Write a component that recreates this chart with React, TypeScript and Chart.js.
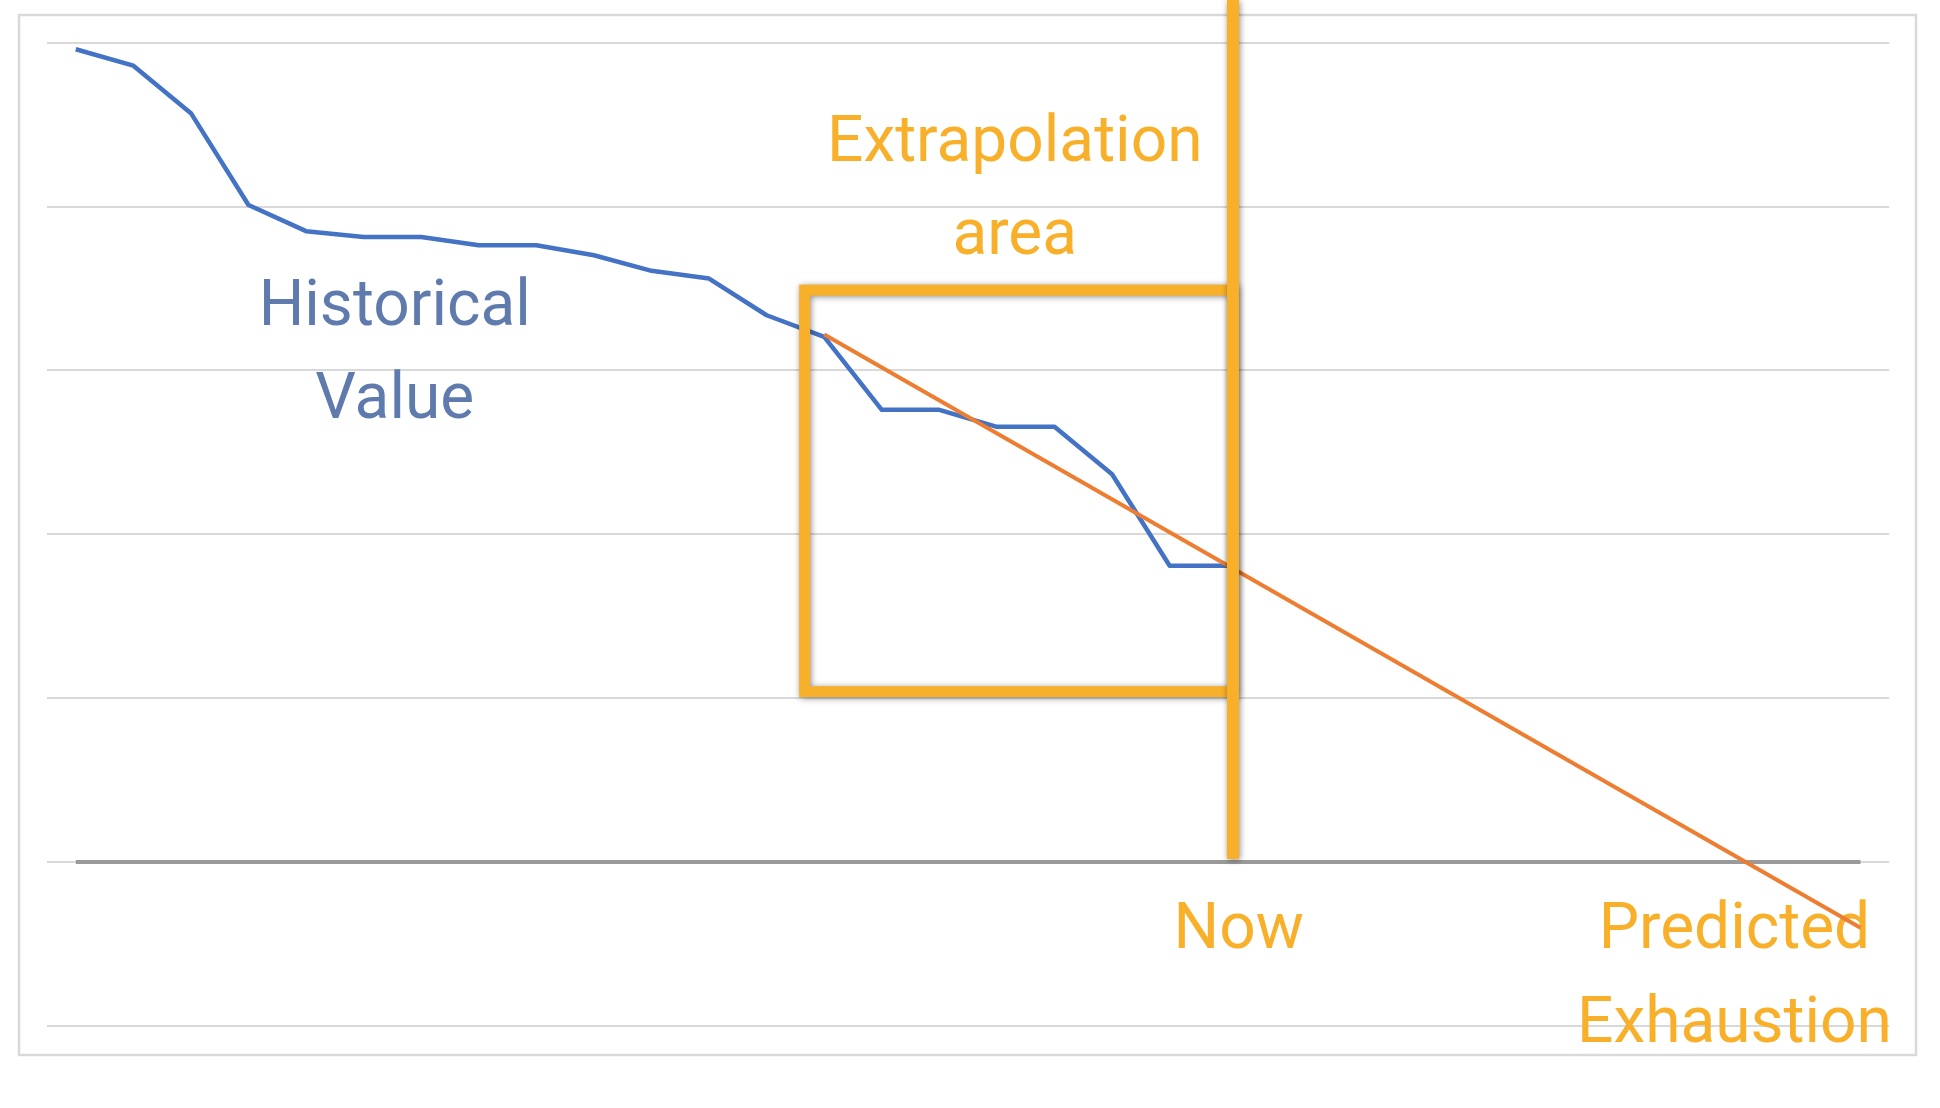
import React, { useEffect, useRef } from "react";
import { Chart, registerables } from "chart.js";

Chart.register(...registerables);

// ---- data ----
const CATEGORIES: string[] = [
  "1", "2", "3", "4", "5", "6", "7", "8", "9", "10", "11", "12", "13", "14", "15", "16",
  "17", "18", "19", "20", "21", "22", "23", "24", "25", "26", "27", "28", "29", "30", "31", "32",
];

const HISTORICAL: (number | null)[] = [
  4.96, 4.86, 4.57, 4.01, 3.85, 3.815, 3.815, 3.764, 3.764, 3.703, 3.608, 3.561, 3.337, 3.205,
  2.76, 2.76, 2.656, 2.656, 2.367, 1.808, 1.808,
  null, null, null, null, null, null, null, null, null, null, null,
];

// trend line: start and end values, drawn straight across the gap
const TREND: (number | null)[] = [
  null, null, null, null, null, null, null, null, null, null, null, null, null, 3.22,
  null, null, null, null, null, null, null, null, null, null, null, null, null, null, null, null, null,
  -0.4,
];

const ZERO_LINE: number[] = [
  0, 0, 0, 0, 0, 0, 0, 0, 0, 0, 0, 0, 0, 0, 0, 0,
  0, 0, 0, 0, 0, 0, 0, 0, 0, 0, 0, 0, 0, 0, 0, 0,
];

const Y_MIN = -1;
const Y_MAX = 5;
const Y_STEP = 1;

// annotations in data units (category index, value)
const NOW_INDEX = 20.1;
const BOX_LEFT_INDEX = 12.66;
const BOX_TOP_VALUE = 3.49;
const BOX_BOTTOM_VALUE = 1.04;

const BLUE_TEXT = ["Historical", "Value"];
const ORANGE_TEXT_1 = ["Extrapolation", "area"];
const ORANGE_TEXT_2 = ["Now"];
const ORANGE_TEXT_3 = ["Predicted", "Exhaustion"];

const LABELS = [
  { lines: BLUE_TEXT, index: 5.54, values: [3.276, 2.707], color: "#5F7BAE" },
  { lines: ORANGE_TEXT_1, index: 16.31, values: [4.279, 3.712], color: "#F8AF2A" },
  { lines: ORANGE_TEXT_2, index: 20.2, values: [-0.523], color: "#F8AF2A" },
  { lines: ORANGE_TEXT_3, index: 28.81, values: [-0.523, -1.096], color: "#F8AF2A" },
];

const ACCENT = "#F8AF2A";

const annotationPlugin = {
  id: "annotations",
  beforeDraw(chart: any) {
    const ctx = chart.ctx;
    ctx.save();
    ctx.fillStyle = "#FFFFFF";
    ctx.fillRect(0, 0, chart.width, chart.height);
    ctx.strokeStyle = "#D9D9D9";
    ctx.lineWidth = 2.5;
    ctx.strokeRect(19, 15, 1897, 1040);
    ctx.restore();
  },
  beforeDatasetsDraw(chart: any) {
    const ctx = chart.ctx;
    const xs = chart.scales.x;
    const ys = chart.scales.y;
    ctx.save();
    ctx.font = '64px Roboto, "Noto Sans", sans-serif';
    ctx.textAlign = "center";
    ctx.textBaseline = "alphabetic";
    for (const lab of LABELS) {
      ctx.fillStyle = lab.color;
      const px = xs.getPixelForValue(lab.index);
      lab.lines.forEach((t: string, i: number) => {
        ctx.fillText(t, px, ys.getPixelForValue(lab.values[i]));
      });
    }
    ctx.restore();
  },
  afterDatasetsDraw(chart: any) {
    const ctx = chart.ctx;
    const xs = chart.scales.x;
    const ys = chart.scales.y;
    const nowX = xs.getPixelForValue(NOW_INDEX);
    const left = xs.getPixelForValue(BOX_LEFT_INDEX);
    const top = ys.getPixelForValue(BOX_TOP_VALUE);
    const bottom = ys.getPixelForValue(BOX_BOTTOM_VALUE);
    const zeroY = ys.getPixelForValue(0);
    ctx.save();
    ctx.shadowColor = "rgba(0,0,0,0.45)";
    ctx.shadowBlur = 6;
    ctx.shadowOffsetX = 1;
    ctx.shadowOffsetY = 1;
    ctx.strokeStyle = ACCENT;
    ctx.lineWidth = 11;
    ctx.strokeRect(left, top, nowX - left, bottom - top);
    ctx.lineWidth = 12;
    ctx.beginPath();
    ctx.moveTo(nowX, 0);
    ctx.lineTo(nowX, zeroY - 3);
    ctx.stroke();
    ctx.restore();
  },
};

export default function App() {
  const canvasRef = useRef<HTMLCanvasElement | null>(null);

  useEffect(() => {
    if (!canvasRef.current) return;
    const chart = new Chart(canvasRef.current, {
      type: "line",
      data: {
        labels: CATEGORIES,
        datasets: [
          {
            label: "Trend",
            data: TREND,
            borderColor: "#ED7D31",
            borderWidth: 4,
            pointRadius: 0,
            spanGaps: true,
            tension: 0,
            order: 0,
          },
          {
            label: "Historical",
            data: HISTORICAL,
            borderColor: "#4472C4",
            borderWidth: 4.5,
            pointRadius: 0,
            tension: 0,
            borderJoinStyle: "round",
            order: 1,
          },
          {
            label: "Zero",
            data: ZERO_LINE,
            borderColor: "#9A9A9A",
            borderWidth: 4,
            pointRadius: 0,
            tension: 0,
            order: 2,
          },
        ],
      },
      options: {
        animation: false,
        responsive: false,
        maintainAspectRatio: false,
        devicePixelRatio: 1,
        layout: { padding: { left: 47, top: 42.7, right: 50.7, bottom: 82 } },
        plugins: {
          legend: { display: false },
          tooltip: { enabled: false },
          title: { display: false },
        },
        scales: {
          x: {
            type: "category",
            display: false,
            offset: true,
          },
          y: {
            min: Y_MIN,
            max: Y_MAX,
            ticks: { display: false, stepSize: Y_STEP },
            grid: { drawTicks: false, color: "#D9D9D9", lineWidth: 2 },
            border: { display: false },
          },
        },
      },
      plugins: [annotationPlugin],
    });
    return () => chart.destroy();
  }, []);

  return (
    <div style={{ position: "absolute", left: 0, top: 0, width: 1940, height: 1108, background: "#fff" }}>
      <canvas ref={canvasRef} width={1940} height={1108} style={{ width: 1940, height: 1108, display: "block" }} />
    </div>
  );
}
